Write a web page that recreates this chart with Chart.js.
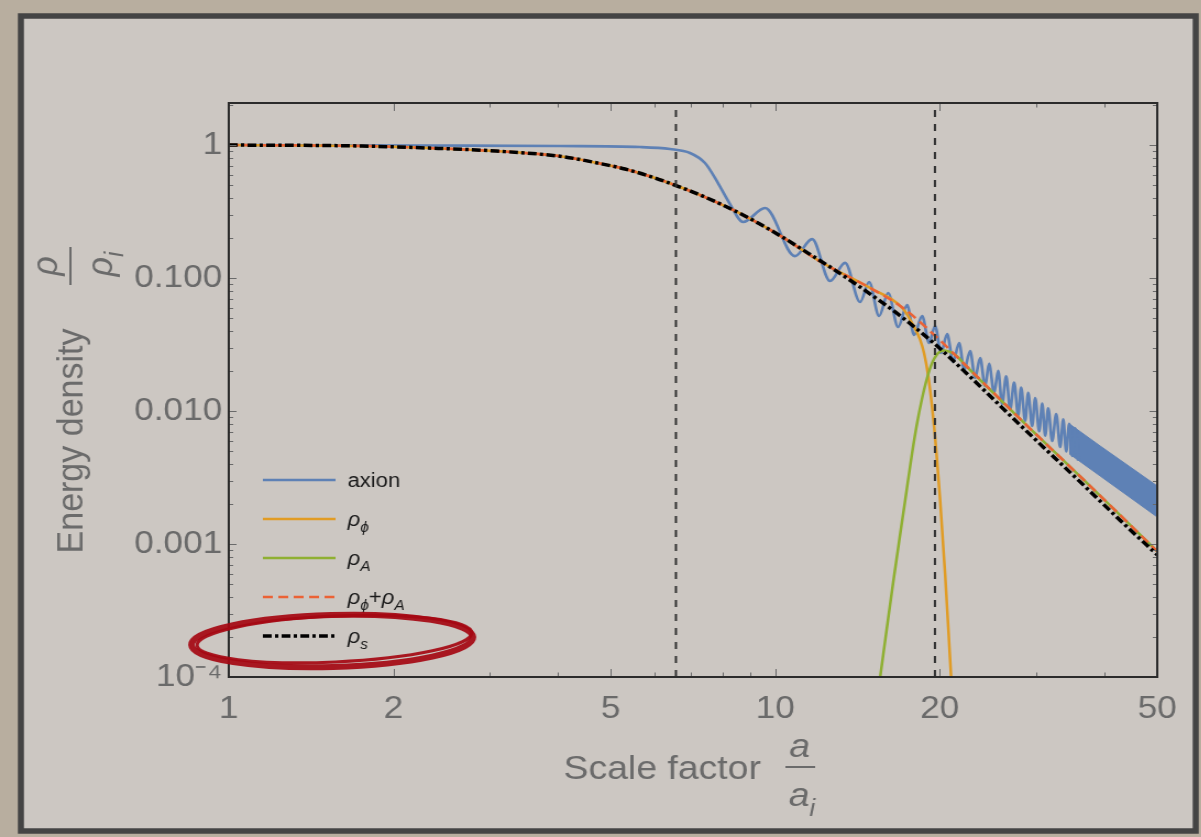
<!DOCTYPE html>
<html>
<head>
<meta charset="utf-8">
<script src="https://cdn.jsdelivr.net/npm/chart.js@4.4.0/dist/chart.umd.min.js"></script>
<style>
  html, body { margin: 0; padding: 0; background: #b8ae9f; overflow: hidden; }
  #wrap { width: 1092px; height: 837px; transform: scaleX(1.1); transform-origin: 0 0; }
  canvas { display: block; }
</style>
</head>
<body>
<div id="wrap"><canvas id="energy_chart" width="1092" height="837"></canvas></div>
<script>
// axis settings
var xMin = 1, xMax = 50, yMin = 0.0001, yMax = 2.07;
var xTickValues = [1, 2, 5, 10, 20, 50];
var yTickValues = [0.0001, 0.001, 0.01, 0.1, 1];
var yTickLabels = ['10\u207B\u2074', '0.001', '0.010', '0.100', '1'];
var markerA = [6.58, 19.6];

var seriesLabels = ['axion', '\u03C1_\u03D5', '\u03C1_A', '\u03C1_\u03D5+\u03C1_A', '\u03C1_s'];

// axion (blue): peaks and troughs
var axionX = [1, 2.323, 4.036, 5.655, 6.419, 6.982, 7.437, 7.856, 8.263, 8.730,
  9.579, 10.87, 11.68, 12.60, 13.42, 14.30, 14.85, 15.49, 16.09, 16.78,
  17.43, 17.95, 18.57, 19.12, 19.61, 20.11, 20.63, 21.16, 21.70, 22.17,
  22.73, 23.21, 23.71, 24.21, 24.62, 25.15, 25.58, 26.01, 26.46, 26.91,
  27.36, 27.83, 28.18, 28.66, 29.03, 29.52, 29.90, 30.41, 30.80, 31.19,
  31.58, 32.12, 32.67, 33.22, 33.65, 34.08, 34.51, 34.95, 35.39, 35.84];
var axionY = [1, 0.991, 0.983, 0.966, 0.933, 0.871, 0.732, 0.518, 0.360, 0.264,
  0.336, 0.146, 0.196, 0.0949, 0.130, 0.0660, 0.0933, 0.0518, 0.0771, 0.0428,
  0.0627, 0.0373, 0.0518, 0.0325, 0.0436, 0.0273, 0.0379, 0.0234, 0.0325, 0.0203,
  0.0283, 0.0177, 0.0250, 0.0154, 0.0226, 0.0137, 0.0201, 0.0113, 0.0182, 0.0103,
  0.0164, 0.00925, 0.0150, 0.00845, 0.0137, 0.00771, 0.0125, 0.00704, 0.0114, 0.00652,
  0.0105, 0.00595, 0.00949, 0.00536, 0.00867, 0.00496, 0.00802, 0.00459, 0.00742, 0.00424];
// dense part of the axion curve, drawn as a band
var bandX = [34.51, 39.32, 50];
var bandTop = [0.00802, 0.005456, 0.002729];
var bandBottom = [0.004771, 0.003246, 0.001596];

// rho_phi (orange)
var phiX = [1, 1.752, 2.323, 3.082, 4.071, 4.778, 5.309, 5.874, 6.58, 7.437,
  8.37, 9.30, 10.33, 12.08, 14.92, 17.14, 17.88, 18.41, 18.73, 19.05,
  19.37, 19.70, 20.03, 20.46, 20.89, 21.25];
var phiY = [1, 0.983, 0.949, 0.901, 0.819, 0.726, 0.660, 0.585, 0.496, 0.406,
  0.325, 0.259, 0.202, 0.133, 0.0841, 0.0585, 0.0443, 0.0344, 0.0270, 0.0184,
  0.0106, 0.00512, 0.00215, 0.000588, 0.000135, 0.00004];

// rho_A (green)
var darkX = [15.36, 15.56, 16.43, 17.29, 17.80, 18.18, 18.57, 18.96, 19.37, 19.79,
  20.03, 20.37, 20.89, 21.52, 22.07, 28.91, 36.92, 44.63, 50];
var darkY = [0.000068, 0.0001, 0.00051, 0.00214, 0.00483, 0.00812, 0.0125, 0.0177, 0.0230, 0.0268,
  0.0280, 0.0285, 0.0278, 0.0257, 0.0230, 0.00774, 0.00296, 0.00139, 0.00088];

// rho_phi + rho_A (red dashed)
var sumX = [1, 1.752, 2.323, 3.082, 4.071, 4.778, 5.309, 5.874, 6.58, 7.437,
  8.37, 9.30, 10.33, 12.08, 14.92, 17.14, 19.78, 22.07, 28.91, 36.92, 44.63, 50];
var sumY = [1, 0.983, 0.949, 0.901, 0.819, 0.726, 0.660, 0.585, 0.496, 0.406,
  0.325, 0.259, 0.202, 0.133, 0.0841, 0.0595, 0.0356, 0.0230, 0.00774, 0.00296, 0.00139, 0.00088];

// rho_s (black dot-dash)
var stdX = [1, 1.752, 2.323, 3.082, 4.071, 4.778, 5.309, 5.874, 6.58, 7.437,
  8.37, 9.30, 10.33, 11.48, 12.76, 14.92, 17.14, 19.78, 22.07, 28.43, 36.14, 44.26, 50];
var stdY = [1, 0.983, 0.949, 0.901, 0.819, 0.726, 0.660, 0.585, 0.496, 0.406,
  0.325, 0.259, 0.202, 0.154, 0.117, 0.0758, 0.0500, 0.0308, 0.0203, 0.00745, 0.00293, 0.00132, 0.00083];

var blue = '#5e81b5', orange = '#e19c24', green = '#8fb032', red = '#eb6235';
var fontFamily = '"Liberation Sans", Arial, sans-serif';

function pts(xs, ys) {
  return xs.map(function (x, i) { return { x: x, y: ys[i] }; });
}

function vline(x) {
  return {
    data: [{ x: x, y: yMin }, { x: x, y: yMax }],
    borderColor: '#333333', borderWidth: 2, borderDash: [7, 7],
    pointRadius: 0, showLine: true, fill: false
  };
}

function curve(xs, ys, color, width, dash) {
  return {
    data: pts(xs, ys),
    borderColor: color, borderWidth: width, borderDash: dash || [],
    pointRadius: 0, showLine: true, fill: false,
    cubicInterpolationMode: 'monotone'
  };
}

var datasets = [
  vline(markerA[0]),
  vline(markerA[1]),
  curve(stdX, stdY, '#000000', 3.5, [8, 3, 3, 3]),
  curve(sumX, sumY, red, 2.5, [9, 5]),
  curve(darkX, darkY, green, 2.5),
  curve(phiX, phiY, orange, 2.5),
  curve(axionX, axionY, blue, 2.6),
  { data: pts(bandX, bandTop), borderColor: blue, borderWidth: 1, backgroundColor: blue,
    pointRadius: 0, showLine: true, fill: '+1' },
  { data: pts(bandX, bandBottom), borderColor: blue, borderWidth: 1,
    pointRadius: 0, showLine: true, fill: false }
];

// legend entries: dataset index, in the order shown
var legendOrder = [6, 5, 4, 3, 2];

// text with "_x" subscripts
function drawRich(ctx, str, x, y, size, italic, align) {
  var parts = [];
  for (var i = 0; i < str.length; i++) {
    if (str[i] === '_') { parts.push({ t: str[i + 1], sub: true }); i++; }
    else parts.push({ t: str[i], sub: false });
  }
  function fontFor(p) {
    var it = italic && p.t !== '+' ? 'italic ' : '';
    var sz = p.sub ? Math.round(size * 0.72) : size;
    return it + sz + 'px ' + fontFamily;
  }
  var total = 0;
  parts.forEach(function (p) { ctx.font = fontFor(p); p.w = ctx.measureText(p.t).width; total += p.w; });
  var cx = align === 'center' ? x - total / 2 : x;
  ctx.textAlign = 'left';
  parts.forEach(function (p) {
    ctx.font = fontFor(p);
    ctx.fillText(p.t, cx, p.sub ? y + size * 0.28 : y);
    cx += p.w;
  });
}

var paperPlugin = {
  id: 'paper',
  beforeDraw: function (chart) {
    var ctx = chart.ctx;
    ctx.save();
    ctx.fillStyle = '#b8ae9f';
    ctx.fillRect(0, 0, chart.width, chart.height);
    ctx.fillStyle = '#ccc7c2';
    ctx.fillRect(19, 16, 1068, 815);
    ctx.strokeStyle = '#444444';
    ctx.lineWidth = 5.5;
    ctx.strokeRect(19, 16, 1068, 815);
    ctx.restore();
  }
};

var framePlugin = {
  id: 'frameTicks',
  afterDatasetsDraw: function (chart) {
    var ctx = chart.ctx, a = chart.chartArea, xs = chart.scales.x, ys = chart.scales.y;
    ctx.save();
    ctx.strokeStyle = '#6a6a6a';
    ctx.lineWidth = 1;
    ctx.beginPath();
    for (var d = 0; d < 2; d++) {
      for (var k = 1; k <= 9; k++) {
        var v = k * Math.pow(10, d);
        if (v > xMax) continue;
        var px = Math.round(xs.getPixelForValue(v)) + 0.5;
        var len = xTickValues.indexOf(v) >= 0 ? 8 : 4.5;
        ctx.moveTo(px, a.bottom); ctx.lineTo(px, a.bottom - len);
        ctx.moveTo(px, a.top); ctx.lineTo(px, a.top + len);
      }
    }
    for (var e = -4; e <= 0; e++) {
      for (var j = 1; j <= 9; j++) {
        var w = j * Math.pow(10, e);
        if (w > yMax) continue;
        var py = Math.round(ys.getPixelForValue(w)) + 0.5;
        var l2 = j === 1 ? 7 : 4;
        ctx.moveTo(a.left, py); ctx.lineTo(a.left + l2, py);
        ctx.moveTo(a.right, py); ctx.lineTo(a.right - l2, py);
      }
    }
    ctx.stroke();
    ctx.strokeStyle = '#2b2b2b';
    ctx.lineWidth = 2;
    ctx.strokeRect(a.left, a.top, a.right - a.left, a.bottom - a.top);
    ctx.restore();
  }
};

var labelPlugin = {
  id: 'labels',
  afterDraw: function (chart) {
    var ctx = chart.ctx;
    ctx.save();
    ctx.textBaseline = 'alphabetic';

    // legend
    legendOrder.forEach(function (idx, row) {
      var ds = chart.data.datasets[idx];
      var y = 480 + row * 39;
      ctx.beginPath();
      ctx.strokeStyle = ds.borderColor;
      ctx.lineWidth = idx === 2 ? 3.5 : 2.5;
      ctx.setLineDash(ds.borderDash || []);
      ctx.moveTo(239, y); ctx.lineTo(305, y);
      ctx.stroke();
      ctx.setLineDash([]);
      ctx.fillStyle = '#1a1a1a';
      drawRich(ctx, seriesLabels[row], 316, y + 7, 20, row > 0, 'left');
    });

    // x title
    ctx.fillStyle = '#6b6b6b';
    ctx.font = '34px ' + fontFamily;
    ctx.textAlign = 'center';
    ctx.fillText('Scale factor', 602, 779);
    ctx.fillRect(714, 766, 27, 2);
    drawRich(ctx, 'a', 727, 757, 34, true, 'center');
    drawRich(ctx, 'a_i', 729, 806, 34, true, 'center');

    // y title
    ctx.translate(74.5, 441);
    ctx.rotate(-Math.PI / 2);
    ctx.font = '34px ' + fontFamily;
    ctx.textAlign = 'center';
    ctx.fillText('Energy density', 0, 0);
    ctx.fillRect(156, -11.5, 38, 2);
    drawRich(ctx, '\u03C1', 175, -22.5, 34, true, 'center');
    drawRich(ctx, '\u03C1_i', 177, 27.5, 34, true, 'center');
    ctx.setTransform(1, 0, 0, 1, 0, 0);

    // red hand-drawn ellipse round the rho_s entry
    ctx.strokeStyle = 'rgba(165, 8, 18, 0.92)';
    ctx.lineWidth = 6;
    ctx.beginPath();
    ctx.ellipse(302, 641, 128, 26, -0.03, 0, Math.PI * 2);
    ctx.stroke();
    ctx.lineWidth = 3;
    ctx.beginPath();
    ctx.ellipse(304, 639, 125, 23, -0.05, 0, Math.PI * 2);
    ctx.stroke();
    ctx.restore();
  }
};

Chart.defaults.font.family = fontFamily;

var ctx = document.getElementById('energy_chart').getContext('2d');
var chartInstance = new Chart(ctx, {
  type: 'scatter',
  data: { datasets: datasets },
  options: {
    responsive: false,
    animation: false,
    layout: { padding: { left: 0, right: 40, top: 103, bottom: 0 } },
    plugins: { legend: { display: false }, tooltip: { enabled: false } },
    scales: {
      x: {
        type: 'logarithmic', min: xMin, max: xMax, position: 'bottom',
        grid: { display: false, drawTicks: false }, border: { display: false },
        afterBuildTicks: function (scale) {
          scale.ticks = xTickValues.map(function (v) { return { value: v }; });
        },
        afterFit: function (scale) { scale.height = 160; },
        ticks: {
          autoSkip: false, maxRotation: 0, minRotation: 0, padding: 13,
          color: '#6a6a6a', font: { size: 32 },
          callback: function (value) { return String(value); }
        }
      },
      y: {
        type: 'logarithmic', min: yMin, max: yMax, position: 'left',
        grid: { display: false, drawTicks: false }, border: { display: false },
        afterBuildTicks: function (scale) {
          scale.ticks = yTickValues.map(function (v) { return { value: v }; });
        },
        afterFit: function (scale) { scale.width = 208; },
        ticks: {
          autoSkip: false, padding: 6,
          color: '#6a6a6a', font: { size: 32 },
          callback: function (value) {
            for (var i = 0; i < yTickValues.length; i++) {
              if (Math.abs(value - yTickValues[i]) / yTickValues[i] < 1e-6) return yTickLabels[i];
            }
            return '';
          }
        }
      }
    }
  },
  plugins: [paperPlugin, framePlugin, labelPlugin]
});
</script>
</body>
</html>
